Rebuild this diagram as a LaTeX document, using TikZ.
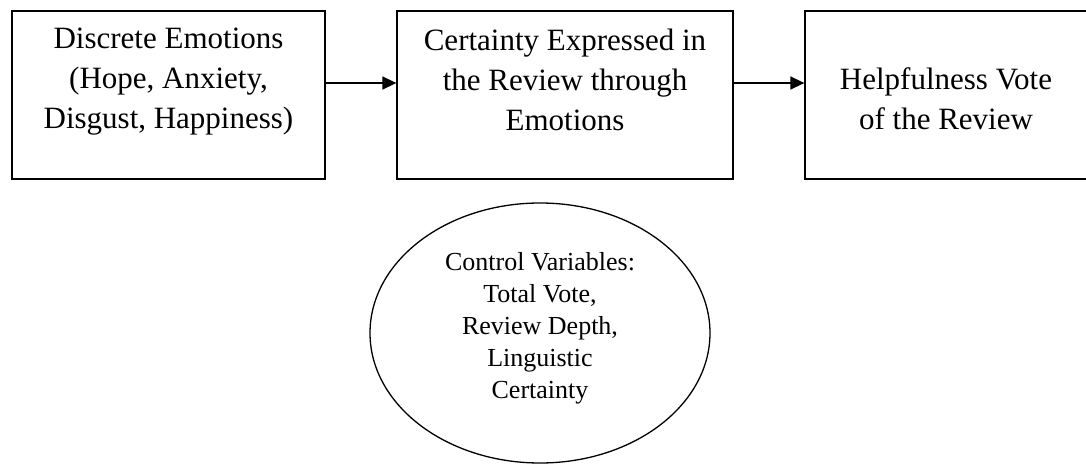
\documentclass[tikz,border=0pt]{standalone}
\usepackage{fontspec}
\setmainfont{Liberation Serif}
\usetikzlibrary{shapes.geometric,arrows.meta}

\tikzset{
    stagebox/.style={draw, line width=1.3pt, rectangle, minimum height=168pt, inner sep=0pt},
    stagetext/.style={align=center, inner sep=0pt, font=\fontsize{31}{40}\selectfont},
    ctrlshape/.style={draw, line width=1.3pt, ellipse, minimum width=340pt, minimum height=260pt, inner sep=0pt},
    ctrltext/.style={align=center, inner sep=0pt, font=\fontsize{26}{32}\selectfont},
    flow/.style={line width=1.4pt, -{Triangle[length=14pt,width=13pt]}}
}

\begin{document}
\begin{tikzpicture}[x=1pt,y=-1pt]
            \useasboundingbox (0,0) rectangle (1086,465);
            \clip (0,0) rectangle (1086,465);
            % the three stages
            \node[stagebox, minimum width=313pt] (emo) at (168.5,95){};
            \node[stagebox, minimum width=336pt] (cert) at (565,95){};
            \node[stagebox, minimum width=330pt] (vote) at (970,95){};
            \node[stagetext] (emotxt) at (168.5,82){Discrete Emotions\\(Hope, Anxiety,\\Disgust, Happiness)};
            \node[stagetext] (certtxt) at (565,80){Certainty Expressed in\\the Review through\\Emotions};
            \node[stagetext] (votetxt) at (946,99){Helpfulness Vote\\of the Review};
            % control variables
            \node[ctrlshape] (ctrl) at (540,333){};
            \node[ctrltext] (ctrltxt) at (540,328){Control Variables:\\Total Vote,\\Review Depth,\\Linguistic\\Certainty};
            \draw[flow] ([yshift=12pt]emo.east) to ([yshift=12pt]cert.west);
            \draw[flow] ([yshift=12pt]cert.east) to ([yshift=12pt]vote.west);
        \end{tikzpicture}
\end{document}
